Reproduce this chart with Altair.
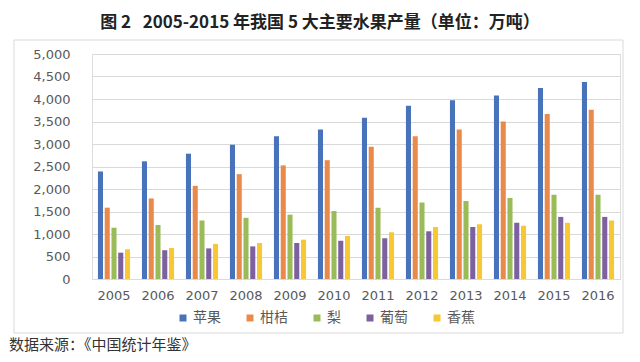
import altair as alt
import pandas as pd

years = ["2005", "2006", "2007", "2008", "2009", "2010", "2011", "2012", "2013", "2014", "2015", "2016"]
fruits = ["苹果", "柑桔", "梨", "葡萄", "香蕉"]
apple = [2390, 2615, 2785, 2985, 3170, 3320, 3585, 3850, 3970, 4080, 4245, 4380]
citrus = [1585, 1790, 2070, 2330, 2525, 2640, 2940, 3170, 3320, 3500, 3665, 3760]
pear = [1140, 1200, 1300, 1360, 1430, 1510, 1585, 1700, 1735, 1800, 1875, 1875]
grape = [585, 640, 680, 725, 800, 850, 905, 1060, 1155, 1250, 1380, 1380]
banana = [660, 690, 780, 800, 875, 955, 1040, 1155, 1215, 1185, 1250, 1300]
y_ticks = [0, 500, 1000, 1500, 2000, 2500, 3000, 3500, 4000, 4500, 5000]
colors = ["#4873BA", "#EA8A4A", "#9BBB59", "#7D60A0", "#F7C833"]
title_text = "图 2\u00a0\u00a0\u00a02005-2015 年我国 5 大主要水果产量（单位：万吨）"
source_text = "数据来源：《中国统计年鉴》"

series = [apple, citrus, pear, grape, banana]
rows = []
for f, vals in zip(fruits, series):
    for y, v in zip(years, vals):
        rows.append({"year": y, "fruit": f, "value": v})
df = pd.DataFrame(rows)

frame = alt.Chart(pd.DataFrame({"a": [0]})).mark_rect(
    fillOpacity=0, stroke="#d9d9d9", strokeWidth=1
).encode(x=alt.value(-78), x2=alt.value(531), y=alt.value(-14), y2=alt.value(279))

bars = alt.Chart(df).mark_bar().encode(
    x=alt.X("year:N", sort=years, title=None,
            scale=alt.Scale(paddingInner=0.27, paddingOuter=0.135),
            axis=alt.Axis(labelAngle=0, ticks=False, domainColor="#d9d9d9", labelPadding=10,
                          labelFontSize=13, labelFont="DejaVu Sans", labelColor="#595959", grid=False)),
    xOffset=alt.XOffset("fruit:N", sort=fruits, scale=alt.Scale(paddingInner=0.25, paddingOuter=0)),
    y=alt.Y("value:Q", title=None, scale=alt.Scale(domain=[0, 5000], nice=False),
            axis=alt.Axis(values=y_ticks, format=",.0f", domain=False, ticks=False, labelPadding=22,
                          labelFontSize=13, labelFont="DejaVu Sans", labelColor="#595959",
                          gridColor="#d9d9d9")),
    color=alt.Color("fruit:N", sort=fruits, scale=alt.Scale(domain=fruits, range=colors),
                    legend=alt.Legend(title=None, orient="none", legendX=84, legendY=257,
                                      direction="horizontal", symbolType="square", symbolSize=49,
                                      symbolStrokeWidth=0, labelFontSize=14, labelFont="Noto Sans CJK SC",
                                      labelColor="#595959", columnPadding=22, labelOffset=3)),
)

source = alt.Chart(pd.DataFrame({"t": [source_text]})).mark_text(
    align="left", baseline="middle", fontSize=15, font="Noto Sans CJK SC", color="#333333"
).encode(x=alt.value(-83), y=alt.value(291), text="t:N")

chart = alt.layer(frame, bars, source).properties(
    width=528, height=225,
    title=alt.TitleParams(title_text, anchor="middle", dx=-36, offset=8, fontSize=17,
                          font="Noto Sans CJK SC", fontWeight="bold", color="#222222"),
    autosize=alt.AutoSizeParams(type="none"),
    padding={"left": 84, "top": 46, "right": 12, "bottom": 75},
).configure_view(stroke=None).configure(background="white")

chart.save("out.html", embed_options={"renderer": "svg", "actions": False})
